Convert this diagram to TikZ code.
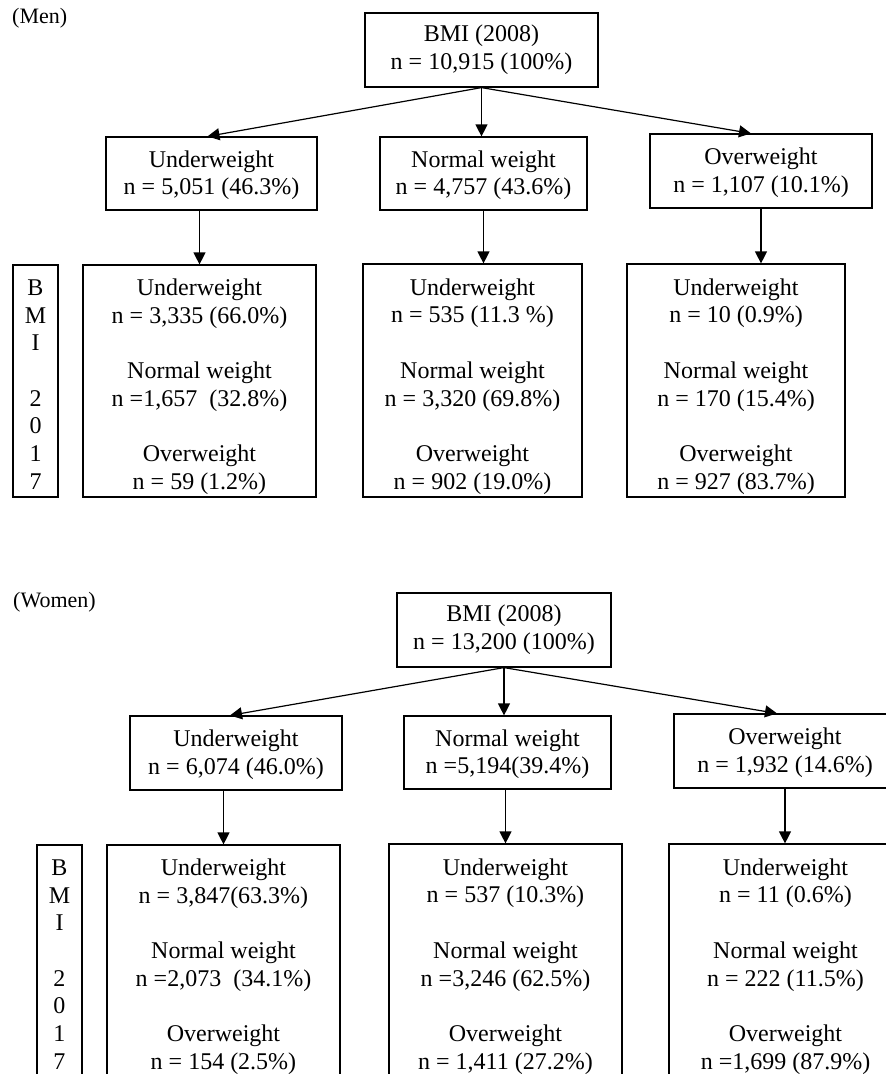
\documentclass[tikz,border=0pt]{standalone}
\usepackage{fontspec}
\setmainfont{Liberation Serif}
\usetikzlibrary{arrows.meta}

\newcommand{\padtop}{\rule{0pt}{28.5pt}}
\tikzset{
  box/.style={draw, line width=1.2pt, align=center, inner sep=0pt,
    font=\fontsize{24}{27.7}\selectfont},
  grp/.style={anchor=west, inner sep=0pt, font=\fontsize{22}{26}\selectfont},
  arr/.style={line width=1.2pt, -{Triangle[length=12pt,width=12pt]}}
}

\begin{document}
\begin{tikzpicture}[x=1pt, y=-1pt]
  \useasboundingbox (0,0) rectangle (886,1074);
  \clip (0,0) rectangle (886,1074); % women's boxes run off the page

  % ---- men ----
  \node[grp] (menlbl) at (12,18) {(Men)};
  \node[box, minimum width=233pt, minimum height=74pt] (rootM) at (481.5,50) {BMI (2008)\\n = 10,915 (100\%)};
  \node[box, minimum width=211pt, minimum height=73pt] (uwM) at (211.5,173.5) {\rule{0pt}{20pt}Underweight\\n = 5,051 (46.3\%)};
  \node[box, minimum width=207pt, minimum height=73pt] (nwM) at (483.5,173.5) {\rule{0pt}{20pt}Normal weight\\n = 4,757 (43.6\%)};
  \node[box, minimum width=222pt, minimum height=74pt] (owM) at (761,171) {\rule{0pt}{20pt}Overweight\\n = 1,107 (10.1\%)};

  \node[box, minimum width=45pt, minimum height=232pt] (sideM) at (35.5,381) {\rule{0pt}{22.5pt}B\\M\\I\\[27.7pt]2\\0\\1\\7};
  \node[box, minimum width=233pt, minimum height=232pt] (luM) at (199.5,381)
    {\padtop Underweight\\n = 3,335 (66.0\%)\\[27.7pt]Normal weight\\n =1,657~ (32.8\%)\\[27.7pt]Overweight\\n = 59 (1.2\%)};
  \node[box, minimum width=219pt, minimum height=233pt] (lnM) at (472.5,380.5)
    {\padtop Underweight\\n = 535 (11.3 \%)\\[27.7pt]Normal weight\\n = 3,320 (69.8\%)\\[27.7pt]Overweight\\n = 902 (19.0\%)};
  \node[box, minimum width=218pt, minimum height=233pt] (loM) at (736,380.5)
    {\padtop Underweight\\n = 10 (0.9\%)\\[27.7pt]Normal weight\\n = 170 (15.4\%)\\[27.7pt]Overweight\\n = 927 (83.7\%)};

  \draw[arr] (rootM.south) -- ([xshift=-4pt]uwM.north);
  \draw[arr] (rootM.south) -- (rootM.south |- nwM.north);
  \draw[arr] (rootM.south) -- ([xshift=-10pt]owM.north);
  \draw[arr] (uwM.south -| luM.north) -- (luM.north);
  \draw[arr] (nwM.south) -- (nwM.south |- lnM.north);
  \draw[arr] (owM.south) -- (owM.south |- loM.north);

  % ---- women ----
  \node[grp] (womenlbl) at (13,602) {(Women)};
  \node[box, minimum width=214pt, minimum height=74pt] (rootW) at (504,630) {BMI (2008)\\n = 13,200 (100\%)};
  \node[box, minimum width=212pt, minimum height=74pt] (uwW) at (236,753) {\rule{0pt}{20pt}Underweight\\n = 6,074 (46.0\%)};
  \node[box, minimum width=207pt, minimum height=73pt] (nwW) at (507.5,752.5) {\rule{0pt}{20pt}Normal weight\\n =5,194(39.4\%)};
  \node[box, minimum width=222pt, minimum height=74pt] (owW) at (785,751) {\rule{0pt}{20pt}Overweight\\n = 1,932 (14.6\%)};

  \node[box, minimum width=45pt, minimum height=232pt] (sideW) at (59.5,961) {\rule{0pt}{22.5pt}B\\M\\I\\[27.7pt]2\\0\\1\\7};
  \node[box, minimum width=233pt, minimum height=232pt] (luW) at (223.5,961)
    {\padtop Underweight\\n = 3,847(63.3\%)\\[27.7pt]Normal weight\\n =2,073~ (34.1\%)\\[27.7pt]Overweight\\n = 154 (2.5\%)};
  \node[box, minimum width=233pt, minimum height=233pt] (lnW) at (505.5,960.5)
    {\padtop Underweight\\n = 537 (10.3\%)\\[27.7pt]Normal weight\\n =3,246 (62.5\%)\\[27.7pt]Overweight\\n = 1,411 (27.2\%)};
  \node[box, minimum width=233pt, minimum height=233pt] (loW) at (785.5,960.5)
    {\padtop Underweight\\n = 11 (0.6\%)\\[27.7pt]Normal weight\\n = 222 (11.5\%)\\[27.7pt]Overweight\\n =1,699 (87.9\%)};

  \draw[arr] (rootW.south) -- ([xshift=-6pt]uwW.north);
  \draw[arr] (rootW.south) -- (rootW.south |- nwW.north);
  \draw[arr] (rootW.south) -- ([xshift=-8pt]owW.north);
  \draw[arr] (uwW.south -| luW.north) -- (luW.north);
  \draw[arr] (nwW.south -| lnW.north) -- (lnW.north);
  \draw[arr] (owW.south) -- (owW.south |- loW.north);
\end{tikzpicture}
\end{document}
